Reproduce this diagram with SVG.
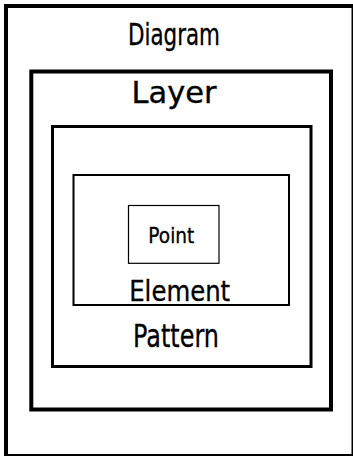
<svg xmlns="http://www.w3.org/2000/svg" width="353" height="456" viewBox="0 0 353 456">
<style>
rect{fill:none;stroke:#000}
text{font-family:"DejaVu Sans","Liberation Sans",sans-serif;fill:#000;text-anchor:middle;stroke:#000;stroke-width:0.35}
</style>
<rect x="0" y="0" width="353" height="456" style="fill:#fff;stroke:none"/>
<g id="diagram">
<rect x="6" y="6" width="347.5" height="450" stroke-width="4"/>
<text x="174" y="45" font-size="29.5" textLength="92" lengthAdjust="spacingAndGlyphs">Diagram</text>
</g>
<g id="layer">
<rect x="31.3" y="71.5" width="299.7" height="338" stroke-width="4"/>
<text x="174" y="103.4" font-size="29.8" textLength="85" lengthAdjust="spacingAndGlyphs">Layer</text>
</g>
<g id="pattern">
<rect x="52.5" y="126.5" width="258.5" height="240" stroke-width="3"/>
<text x="176" y="346.7" font-size="32" textLength="86" lengthAdjust="spacingAndGlyphs">Pattern</text>
</g>
<g id="element">
<rect x="73.5" y="175" width="215.5" height="130" stroke-width="2"/>
<text x="179.7" y="300.5" font-size="28.5" textLength="101" lengthAdjust="spacingAndGlyphs">Element</text>
</g>
<g id="point">
<rect x="128.5" y="205.5" width="90.5" height="57.8" stroke-width="1.2"/>
<text x="171.3" y="242.8" font-size="22" textLength="46" lengthAdjust="spacingAndGlyphs">Point</text>
</g>
<g id="connectors"/>
</svg>
